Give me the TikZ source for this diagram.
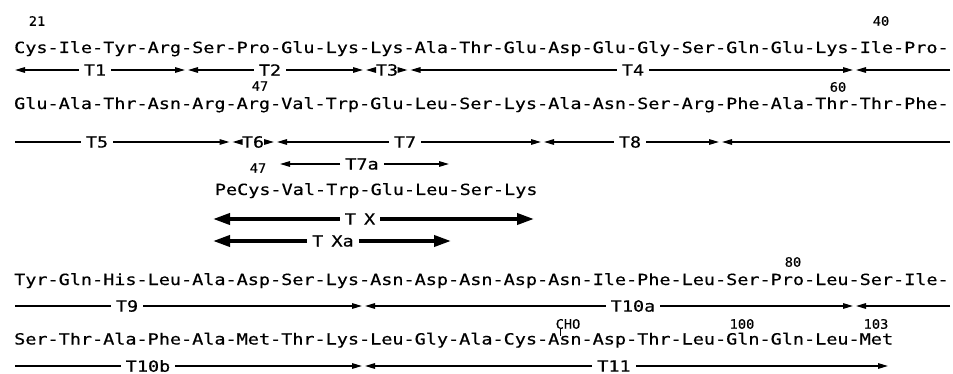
\documentclass[tikz,border=0pt]{standalone}
\usepackage{fontspec}
\usetikzlibrary{arrows.meta}
\newfontfamily\seqf[FakeStretch=1.2,FakeBold=0.5]{DejaVu Sans Mono}
\newfontfamily\numf[FakeStretch=1.05,FakeBold=0.4]{DejaVu Sans Mono}
\begin{document}
\begin{tikzpicture}[x=1pt,y=-1pt,
  seq/.style={font=\seqf\fontsize{15.4}{18}\selectfont, inner sep=0pt, anchor=base west},
  num/.style={font=\numf\fontsize{13}{15}\selectfont, inner sep=0pt},
  lab/.style={font=\seqf\fontsize{15.4}{18}\selectfont, inner xsep=5pt, inner ysep=0pt},
  labt/.style={lab, inner xsep=1pt},
  thinl/.style={line width=1.4pt},
  thickl/.style={line width=3.6pt},
  hd/.style={thinl, -{Triangle[length=10pt,width=5.5pt]}},
  hdb/.style={thickl, -{Triangle[length=17pt,width=11pt]}},
]
\useasboundingbox (0,0) rectangle (953,374);

% ---------- sequence rows ----------
\node[seq] (r1) at (14,53) {Cys-Ile-Tyr-Arg-Ser-Pro-Glu-Lys-Lys-Ala-Thr-Glu-Asp-Glu-Gly-Ser-Gln-Glu-Lys-Ile-Pro-};
\node[seq] (r2) at (14,109) {Glu-Ala-Thr-Asn-Arg-Arg-Val-Trp-Glu-Leu-Ser-Lys-Ala-Asn-Ser-Arg-Phe-Ala-Thr-Thr-Phe-};
\node[seq] (pe) at (214.7,195) {PeCys-Val-Trp-Glu-Leu-Ser-Lys};
\node[seq] (r3) at (14,285) {Tyr-Gln-His-Leu-Ala-Asp-Ser-Lys-Asn-Asp-Asn-Asp-Asn-Ile-Phe-Leu-Ser-Pro-Leu-Ser-Ile-};
\node[seq] (r4) at (14,344.5) {Ser-Thr-Ala-Phe-Ala-Met-Thr-Lys-Leu-Gly-Ala-Cys-Asn-Asp-Thr-Leu-Gln-Gln-Leu-Met};

% ---------- residue numbers ----------
\node[num] (n21) at (37,21) {21};
\node[num] (n40) at (881,21) {40};
\node[num] (n47) at (260,86) {47};
\node[num] (n60) at (838,87) {60};
\node[num] (n47b) at (258,168) {47};
\node[num] (n80) at (793,262) {80};
\node[num] (cho) at (568,324) {CHO};
\node[num] (n100) at (742,324) {100};
\node[num] (n103) at (876,324) {103};
\draw[line width=1.2pt] ([xshift=5pt]cho.south west) -- ++(0,7);

% ---------- row 1 fragments (y=70) ----------
\node[lab] (T1) at (95,70) {T1};
\node[lab] (T2) at (270,70) {T2};
\node[labt] (T3) at (387,70) {T3};
\node[lab] (T4) at (633,70) {T4};
\coordinate (a1) at (15,70); \coordinate (a2) at (185,70);
\coordinate (a3) at (188,70); \coordinate (a4) at (363,70);
\coordinate (a5) at (366,70); \coordinate (a6) at (407.5,70);
\coordinate (a7) at (410.5,70); \coordinate (a8) at (853,70);
\coordinate (a9) at (856,70); \coordinate (a10) at (950,70);
\draw[hd] (T1) -- (a1); \draw[hd] (T1) -- (a2);
\draw[hd] (T2) -- (a3); \draw[hd] (T2) -- (a4);
\draw[hd] (T3) -- (a5); \draw[hd] (T3) -- (a6);
\draw[hd] (T4) -- (a7); \draw[hd] (T4) -- (a8);
\draw[hd] (a10) -- (a9);

% ---------- row 2 fragments (y=142) ----------
\node[lab] (T5) at (97,142) {T5};
\node[labt] (T6) at (253,142) {T6};
\node[lab] (T7) at (405,142) {T7};
\node[lab] (T8) at (630,142) {T8};
\coordinate (b1) at (15,142); \coordinate (b2) at (229.5,142);
\coordinate (b3) at (232.5,142); \coordinate (b4) at (274,142);
\coordinate (b5) at (277,142); \coordinate (b6) at (541,142);
\coordinate (b7) at (544,142); \coordinate (b8) at (719,142);
\coordinate (b9) at (722,142); \coordinate (b10) at (950,142);
\draw[thinl] (b1) -- (T5); \draw[hd] (T5) -- (b2);
\draw[hd] (T6) -- (b3); \draw[hd] (T6) -- (b4);
\draw[hd] (T7) -- (b5); \draw[hd] (T7) -- (b6);
\draw[hd] (T8) -- (b7); \draw[hd] (T8) -- (b8);
\draw[hd] (b10) -- (b9);

% ---------- T7a ----------
\node[lab] (T7a) at (362,164) {T7a};
\coordinate (c1) at (280,164); \coordinate (c2) at (449,164);
\draw[hd] (T7a) -- (c1); \draw[hd] (T7a) -- (c2);

% ---------- TX, TXa (thick) ----------
\node[lab] (TX) at (360,219) {T\kern-3pt\ X};
\node[lab] (TXa) at (333,241) {T\kern-3pt\ Xa};
\coordinate (d1) at (213,219); \coordinate (d2) at (534,219);
\coordinate (e1) at (213,241); \coordinate (e2) at (451,241);
\draw[hdb] (TX) -- (d1); \draw[hdb] (TX) -- (d2);
\draw[hdb] (TXa) -- (e1); \draw[hdb] (TXa) -- (e2);

% ---------- row 3 fragments (y=306) ----------
\node[lab] (T9) at (127,306) {T9};
\node[lab] (T10a) at (633,306) {T10a};
\coordinate (f1) at (15,306); \coordinate (f2) at (362,306);
\coordinate (f3) at (365,306); \coordinate (f4) at (853,306);
\coordinate (f5) at (856,306); \coordinate (f6) at (950,306);
\draw[thinl] (f1) -- (T9); \draw[hd] (T9) -- (f2);
\draw[hd] (T10a) -- (f3); \draw[hd] (T10a) -- (f4);
\draw[hd] (f6) -- (f5);

% ---------- row 4 fragments (y=366) ----------
\node[lab] (T10b) at (148,366) {T10b};
\node[lab] (T11) at (614,366) {T11};
\coordinate (g1) at (15,366); \coordinate (g2) at (362,366);
\coordinate (g3) at (365,366); \coordinate (g4) at (888,366);
\draw[thinl] (g1) -- (T10b); \draw[hd] (T10b) -- (g2);
\draw[hd] (T11) -- (g3); \draw[hd] (T11) -- (g4);
\end{tikzpicture}
\end{document}
